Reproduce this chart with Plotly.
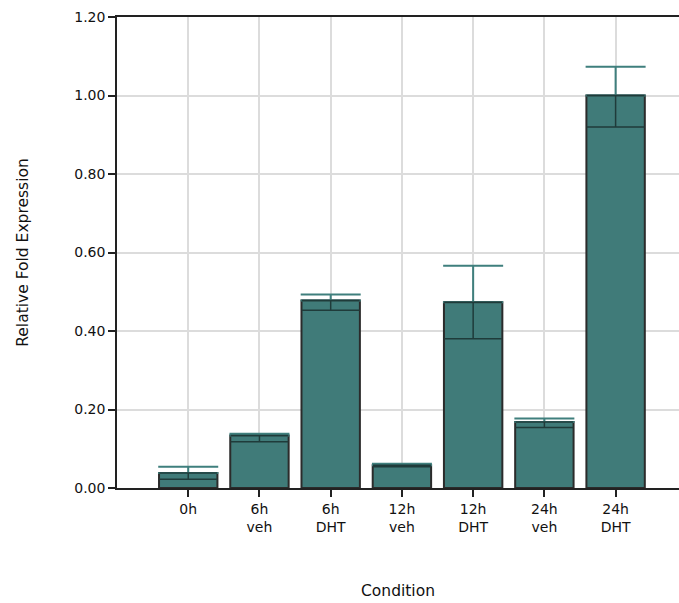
import plotly.graph_objects as go

categories = ["0h<br>", "6h<br>veh", "6h<br>DHT", "12h<br>veh", "12h<br>DHT", "24h<br>veh", "24h<br>DHT"]
values = [0.038, 0.134, 0.478, 0.058, 0.473, 0.168, 1.000]
err_up = [0.016, 0.004, 0.015, 0.004, 0.093, 0.009, 0.073]
err_down = [0.016, 0.016, 0.025, 0.004, 0.093, 0.014, 0.080]
y_ticks = [0.0, 0.2, 0.4, 0.6, 0.8, 1.0, 1.2]

bar_color = "#407b79"
font_family = "DejaVu Sans, Verdana, sans-serif"
text_color = "#111111"

fig = go.Figure()
fig.add_trace(go.Bar(
    x=categories, y=values, width=0.82,
    marker=dict(color=bar_color, line=dict(color="#2b2b2b", width=2)),
    showlegend=False, hoverinfo="skip",
))
# upper error part (teal, wide cap)
fig.add_trace(go.Scatter(
    x=categories, y=values, mode="markers",
    marker=dict(size=1, opacity=0),
    error_y=dict(type="data", symmetric=False, array=err_up,
                 arrayminus=[0] * len(values), color="#3f7f7d",
                 thickness=2, width=30),
    showlegend=False, hoverinfo="skip",
))
# lower error part (dark, bar-width line)
fig.add_trace(go.Scatter(
    x=categories, y=values, mode="markers",
    marker=dict(size=1, opacity=0),
    error_y=dict(type="data", symmetric=False, array=[0] * len(values),
                 arrayminus=err_down, color="#1f3b3a",
                 thickness=1.5, width=29),
    showlegend=False, hoverinfo="skip",
))

fig.update_layout(
    width=679, height=603,
    margin=dict(l=117, r=0, t=17, b=115),
    paper_bgcolor="white", plot_bgcolor="white",
    font=dict(family=font_family, size=14, color=text_color),
    xaxis=dict(
        type="category", range=[-1, 6.89],
        showgrid=True, gridcolor="#dcdcdc", gridwidth=1.5,
        showline=True, linecolor="#222222", linewidth=1.5, mirror=True,
        ticks="outside", ticklen=7, tickwidth=1.5, tickcolor="#222222",
        tickfont=dict(size=14),
        title=dict(text="Condition", standoff=51, font=dict(size=15.5)),
        zeroline=False,
    ),
    yaxis=dict(
        range=[0, 1.2], tickvals=y_ticks, tickformat=".2f",
        showgrid=True, gridcolor="#dcdcdc", gridwidth=1.5,
        showline=True, linecolor="#222222", linewidth=1.5,
        ticks="outside", ticklen=7, tickwidth=1.5, tickcolor="#222222",
        tickfont=dict(size=14),
        title=dict(text="Relative Fold Expression", standoff=42, font=dict(size=15.5)),
        zeroline=False,
    ),
)

fig.write_html("out.html")
